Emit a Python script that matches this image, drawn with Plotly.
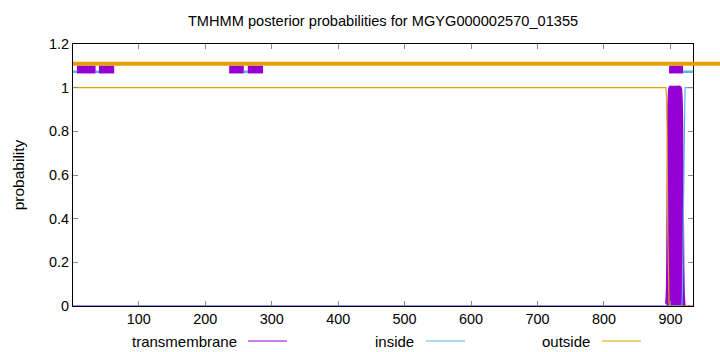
import plotly.graph_objects as go

title = "TMHMM posterior probabilities for MGYG000002570_01355"
seq_len = 934

# posterior probability curves (position, value)
pos = [1, 893, 894, 895, 896, 897, 898, 899, 900, 902, 905, 910, 914, 915, 916, 917, 918, 919, 920, 921, 922, 934]
tm_prob = [0, 0, 0, 0.01, 0.06, 0.4, 0.85, 0.97, 1.0, 1.0, 1.0, 1.0, 1.0, 0.98, 0.9, 0.6, 0.2, 0.04, 0, 0, 0, 0]
inside_prob = [0, 0, 0, 0, 0, 0, 0, 0, 0, 0, 0, 0, 0, 0, 0, 0, 0.05, 0.3, 0.75, 0.97, 1.0, 1.0]
outside_prob = [1.0, 1.0, 0.97, 0.8, 0.35, 0.08, 0.01, 0, 0, 0, 0, 0, 0, 0, 0, 0, 0, 0, 0, 0, 0, 0]

# top annotation segments
tm_seg_start = [7, 40, 236, 264, 898]
tm_seg_end = [35, 63, 258, 287, 919]
in_seg_start = [1, 35, 258, 919]
in_seg_end = [7, 40, 264, 934]

C_TM = "#9400D3"
C_IN = "#56B4E9"
C_OUT = "#E69F00"

fig = go.Figure()
fig.add_trace(go.Scatter(x=pos, y=tm_prob, mode="lines", fill="tozeroy",
                         fillcolor=C_TM, line=dict(color=C_TM, width=1.2, shape="spline"),
                         showlegend=False))
# thick outline of the TM peak
fig.add_trace(go.Scatter(x=pos[3:19], y=tm_prob[3:19], mode="lines",
                         line=dict(color=C_TM, width=4, shape="spline"), showlegend=False))
fig.add_trace(go.Scatter(x=pos, y=outside_prob, mode="lines",
                         line=dict(color=C_OUT, width=1.2), showlegend=False))
fig.add_trace(go.Scatter(x=pos, y=inside_prob, mode="lines",
                         line=dict(color=C_IN, width=1.2), showlegend=False))

shapes = []
# outside bar across the top
shapes.append(dict(type="line", xref="paper", yref="y", x0=0, x1=1.05, y0=1.11, y1=1.11,
                   line=dict(color=C_OUT, width=4)))
for s, e in zip(in_seg_start, in_seg_end):
    shapes.append(dict(type="line", xref="x", yref="y", x0=s, x1=e, y0=1.073, y1=1.073,
                       line=dict(color=C_IN, width=2.5)))
for s, e in zip(tm_seg_start, tm_seg_end):
    shapes.append(dict(type="rect", xref="x", yref="y", x0=s, x1=e, y0=1.065, y1=1.1,
                       fillcolor=C_TM, line=dict(width=0)))

# legend (gnuplot style: text then line sample)
leg = [("transmembrane", C_TM, 239, 248, 287), ("inside", C_IN, 416, 426, 465),
       ("outside", C_OUT, 592, 602, 641)]
annotations = []
L, R, T, B = 73, 693, 44, 306
def px(x):
    return (x - L) / (R - L)
ly = (B - 341) / (B - T)
for name, col, tx, lx0, lx1 in leg:
    annotations.append(dict(text=name, xref="paper", yref="paper", x=px(tx), y=ly,
                            xanchor="right", yanchor="middle", showarrow=False,
                            font=dict(size=15, color="#000")))
    shapes.append(dict(type="line", xref="paper", yref="paper", x0=px(lx0), x1=px(lx1),
                       y0=ly, y1=ly, line=dict(color=col, width=1)))

fig.update_layout(
    width=720, height=352,
    margin=dict(l=L, r=720 - R, t=T, b=352 - B),
    paper_bgcolor="white", plot_bgcolor="white",
    font=dict(family="Liberation Sans, Arial, sans-serif", size=14, color="#000"),
    title=dict(text=title, x=0.532, xanchor="center", y=0.94, yanchor="middle",
               font=dict(size=14.6)),
    shapes=shapes, annotations=annotations,
    showlegend=False,
)
fig.update_xaxes(range=[1, seq_len], tickvals=[100, 200, 300, 400, 500, 600, 700, 800, 900],
                 ticks="inside", ticklen=5, tickcolor="#888", showline=True, linecolor="#000",
                 linewidth=1, mirror="ticks", showgrid=False, zeroline=False,
                 tickfont=dict(size=14.4))
fig.update_yaxes(range=[0, 1.2], tickvals=[0, 0.2, 0.4, 0.6, 0.8, 1, 1.2],
                 ticks="inside", ticklen=5, tickcolor="#888", showline=True, linecolor="#000",
                 linewidth=1, mirror="ticks", showgrid=False, zeroline=False,
                 tickfont=dict(size=14.4),
                 title=dict(text="probability", standoff=20, font=dict(size=15.5)))

fig.write_html("out.html")
